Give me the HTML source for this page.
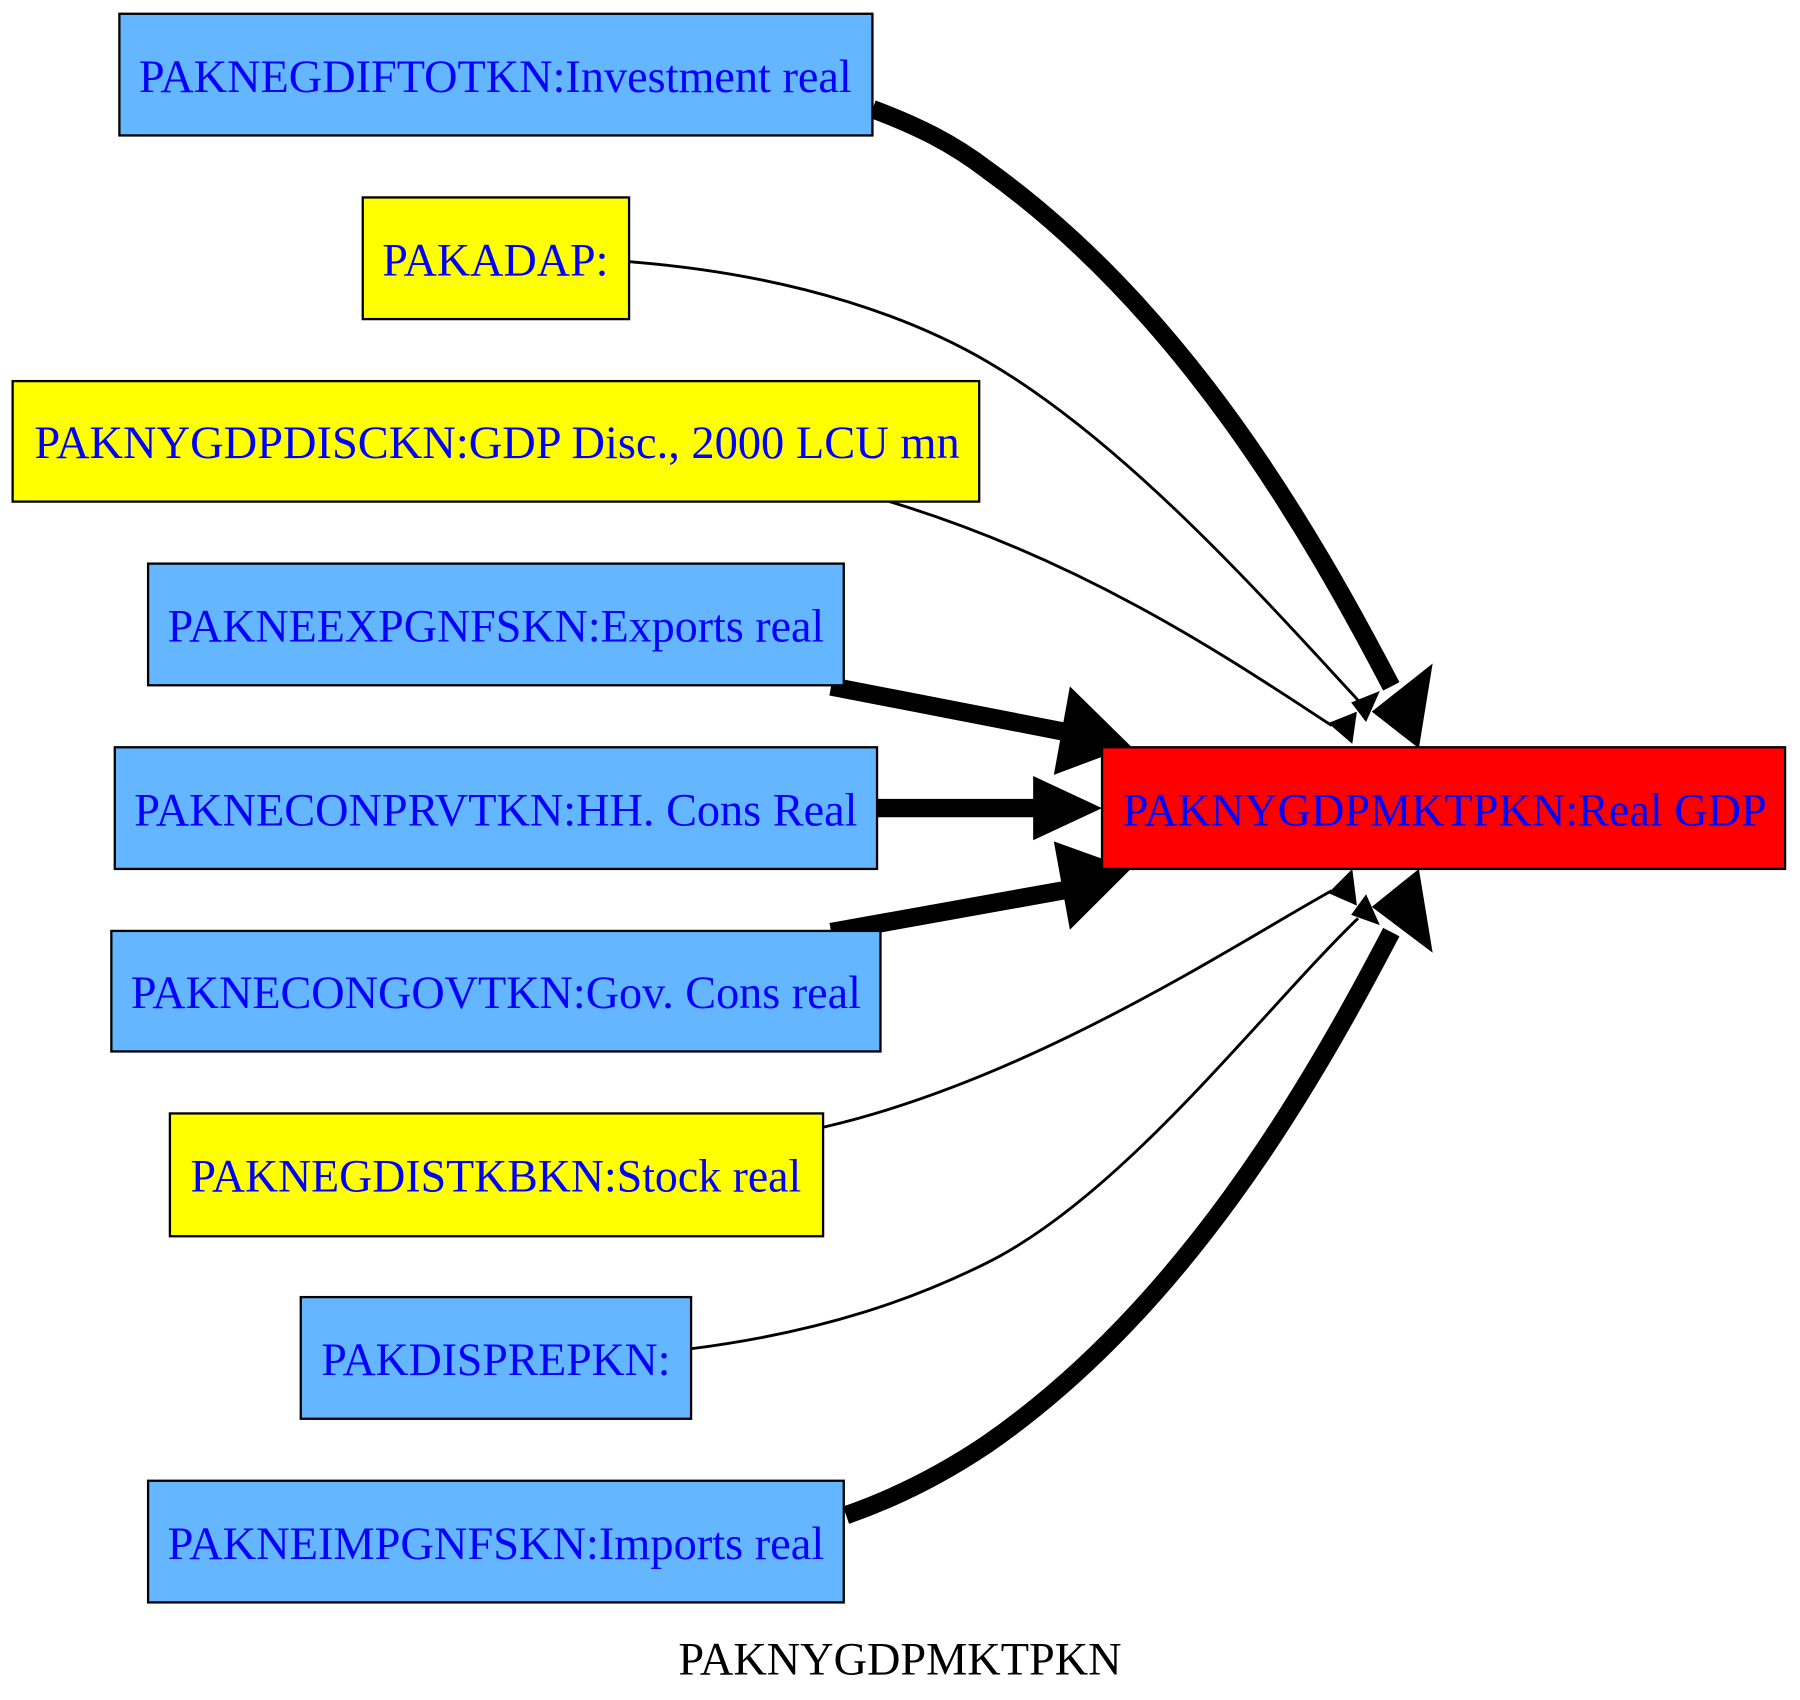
<!DOCTYPE html>
<html><head><meta charset="utf-8"><style>
html,body{margin:0;padding:0;background:#fff;}
svg{display:block;}
text{font-family:"Liberation Serif",serif;}
</style></head><body>
<svg width="1800" height="1700" viewBox="0 0 1568 1481" preserveAspectRatio="none" xmlns="http://www.w3.org/2000/svg">
<rect width="1568" height="1481" fill="#fff"/>
<g fill="none" stroke="#000">
<path d="M760,95 C800,110 830,125 860,148 C1030,270 1140,460 1212,598" stroke-width="16"/>
<path d="M548,228 C700,240 800,280 860,315 C980,385 1100,520 1183,610" stroke-width="2.5"/>
<path d="M775,437 C950,490 1080,580 1160,632" stroke-width="2.5"/>
<path d="M724,598 L930,638" stroke-width="16"/>
<path d="M764,704 L905,704" stroke-width="16"/>
<path d="M724,812 L930,775" stroke-width="16"/>
<path d="M717,982 C900,940 1080,820 1160,776" stroke-width="2.5"/>
<path d="M602,1175 C720,1160 800,1130 860,1100 C980,1040 1100,880 1183,800" stroke-width="2.5"/>
<path d="M737,1320 C780,1305 820,1285 860,1258 C1030,1140 1140,950 1212,812" stroke-width="16"/>
</g>
<g fill="#000">
<polygon points="1195,620 1248,578 1236,652"/>
<polygon points="1177,612 1202,602 1190,629"/>
<polygon points="1157,630 1182,620 1178,648"/>
<polygon points="932,598 985,650 918,675"/>
<polygon points="900,676 960,704 900,732"/>
<polygon points="918,733 985,757 932,810"/>
<polygon points="1157,778 1178,757 1182,789"/>
<polygon points="1177,797 1202,806 1190,779"/>
<polygon points="1195,790 1248,830 1236,757"/>
</g>
<g stroke="#000" stroke-width="2">
<rect x="104" y="12" width="656" height="106" fill="#63b6ff"/>
<rect x="316" y="172" width="232" height="106" fill="#ffff00"/>
<rect x="11" y="332" width="842" height="105" fill="#ffff00"/>
<rect x="129" y="491" width="606" height="106" fill="#63b6ff"/>
<rect x="100" y="651" width="664" height="106" fill="#63b6ff"/>
<rect x="97" y="811" width="670" height="105" fill="#63b6ff"/>
<rect x="148" y="970" width="569" height="107" fill="#ffff00"/>
<rect x="262" y="1130" width="340" height="106" fill="#63b6ff"/>
<rect x="129" y="1290" width="606" height="106" fill="#63b6ff"/>
<rect x="960" y="651" width="595" height="106" fill="#ff0000"/>
</g>
<g fill="#0000ff" font-size="41">
<text x="121" y="80" textLength="621" lengthAdjust="spacingAndGlyphs">PAKNEGDIFTOTKN:Investment real</text>
<text x="333" y="240" textLength="197" lengthAdjust="spacingAndGlyphs">PAKADAP:</text>
<text x="30" y="399" textLength="806" lengthAdjust="spacingAndGlyphs">PAKNYGDPDISCKN:GDP Disc., 2000 LCU mn</text>
<text x="146" y="559" textLength="572" lengthAdjust="spacingAndGlyphs">PAKNEEXPGNFSKN:Exports real</text>
<text x="117" y="719" textLength="630" lengthAdjust="spacingAndGlyphs">PAKNECONPRVTKN:HH. Cons Real</text>
<text x="114" y="878" textLength="636" lengthAdjust="spacingAndGlyphs">PAKNECONGOVTKN:Gov. Cons real</text>
<text x="166" y="1038" textLength="532" lengthAdjust="spacingAndGlyphs">PAKNEGDISTKBKN:Stock real</text>
<text x="280" y="1198" textLength="304" lengthAdjust="spacingAndGlyphs">PAKDISPREPKN:</text>
<text x="146" y="1358" textLength="572" lengthAdjust="spacingAndGlyphs">PAKNEIMPGNFSKN:Imports real</text>
<text x="978" y="719" textLength="561" lengthAdjust="spacingAndGlyphs">PAKNYGDPMKTPKN:Real GDP</text>
</g>
<text x="591" y="1459" font-size="41" textLength="386" lengthAdjust="spacingAndGlyphs" fill="#000">PAKNYGDPMKTPKN</text>
</svg>
</body></html>
